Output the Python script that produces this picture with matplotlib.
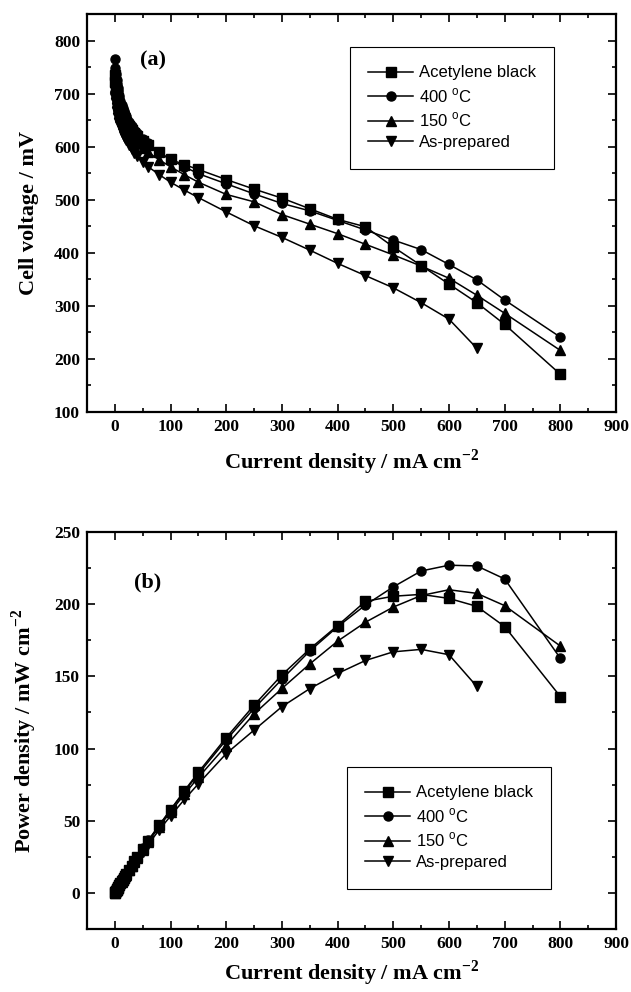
import matplotlib
matplotlib.use('Agg')
import matplotlib.pyplot as plt
from matplotlib.ticker import MultipleLocator

plt.rcParams['font.family'] = ['Liberation Serif', 'DejaVu Serif']
plt.rcParams['mathtext.fontset'] = 'custom'
plt.rcParams['mathtext.rm'] = 'Liberation Serif:bold'
plt.rcParams['mathtext.bf'] = 'Liberation Serif:bold'
plt.rcParams['mathtext.sf'] = 'Liberation Sans'

# current density (mA cm-2) at which each point was measured
current = [0, 1, 2, 3, 4, 5, 6, 8, 10, 12, 14, 16, 18, 20, 25, 30, 35, 40, 50, 60,
           80, 100, 125, 150, 200, 250, 300, 350, 400, 450, 500, 550, 600, 650, 700, 800]
current_asprep = current[:34]

# (a) cell voltage, mV
volt_acetylene = [735, 722, 712, 704, 697, 691, 686, 677, 670, 664, 659, 654, 650, 646, 638, 631,
                  625, 620, 611, 603, 589, 576, 566, 557, 538, 520, 503, 483, 463, 449, 411, 376,
                  341, 306, 265, 171]
volt_400 = [765, 748, 736, 726, 718, 711, 705, 695, 686, 679, 672, 667, 662, 657, 647, 639,
            632, 626, 615, 606, 589, 575, 562, 549, 530, 511, 493, 479, 461, 443, 424, 406,
            378, 349, 311, 241]
volt_150 = [725, 712, 701, 692, 685, 678, 673, 664, 657, 650, 645, 640, 636, 632, 624, 617,
            611, 606, 597, 589, 575, 562, 547, 533, 510, 496, 472, 454, 436, 416, 396, 375,
            352, 320, 286, 216]
volt_asprep = [705, 692, 682, 673, 666, 660, 654, 645, 638, 631, 626, 621, 616, 612, 603, 595,
               588, 582, 571, 562, 547, 533, 518, 504, 477, 451, 429, 405, 380, 357, 334, 306,
               275, 220]

# (b) power density, mW cm-2
power_acetylene = [0, 0.7, 1.4, 2.1, 2.8, 3.5, 4.1, 5.4, 6.7, 8.0, 9.2, 10.5, 11.7, 12.9, 16.0,
                   18.9, 21.9, 24.8, 30.6, 36.2, 47.1, 57.6, 70.8, 83.6, 107.6, 130.0, 151.0,
                   169.0, 185.2, 202.0, 205.5, 206.8, 204.0, 198.5, 184.5, 136.0]
power_400 = [0, 0.7, 1.5, 2.2, 2.9, 3.6, 4.2, 5.6, 6.9, 8.1, 9.4, 10.7, 11.9, 13.1, 16.2,
             19.2, 22.1, 25.0, 30.8, 36.4, 47.1, 57.5, 70.3, 82.4, 106.0, 127.8, 148.0,
             167.6, 184.4, 199.4, 212.0, 223.0, 227.0, 226.5, 217.5, 162.5]
power_150 = [0, 0.7, 1.4, 2.1, 2.7, 3.4, 4.0, 5.3, 6.6, 7.8, 9.0, 10.2, 11.4, 12.6, 15.6,
             18.5, 21.4, 24.2, 29.9, 35.3, 46.0, 56.2, 68.4, 80.0, 102.0, 124.0, 141.6,
             158.6, 174.4, 187.5, 198.0, 206.0, 210.0, 207.5, 199.0, 171.0]
power_asprep = [0, 0.7, 1.4, 2.0, 2.7, 3.3, 3.9, 5.2, 6.4, 7.6, 8.8, 9.9, 11.1, 12.2, 15.1,
                17.9, 20.6, 23.3, 28.6, 33.7, 43.8, 53.3, 64.8, 75.6, 96.5, 112.8, 129.0,
                141.5, 152.0, 161.0, 167.0, 168.7, 165.0, 143.0]

labels = ['Acetylene black', '400 $^{\\mathsf{o}}$C', '150 $^{\\mathsf{o}}$C', 'As-prepared']
markers = ['s', 'o', '^', 'v']
msizes = [6.5, 6.5, 7.5, 7.5]

fig = plt.figure(figsize=(6.31, 9.92), dpi=100)
ax1 = fig.add_axes([0.1379, 0.5847, 0.8384, 0.4012])
ax2 = fig.add_axes([0.1379, 0.0635, 0.8384, 0.4002])

volts = [(current, volt_acetylene), (current, volt_400), (current, volt_150), (current_asprep, volt_asprep)]
powers = [(current, power_acetylene), (current, power_400), (current, power_150), (current_asprep, power_asprep)]

for ax, series in [(ax1, volts), (ax2, powers)]:
    for (x, y), lab, m, ms in zip(series, labels, markers, msizes):
        ax.plot(x, y, color='black', linewidth=1.1, marker=m, markersize=ms, label=lab)

def style(ax, ymin, ymax, ymaj, ymin_step, xpad):
    ax.set_xlim(-50, 900)
    ax.set_ylim(ymin, ymax)
    ax.xaxis.set_major_locator(MultipleLocator(100))
    ax.xaxis.set_minor_locator(MultipleLocator(50))
    ax.yaxis.set_major_locator(MultipleLocator(ymaj))
    ax.yaxis.set_minor_locator(MultipleLocator(ymin_step))
    ax.tick_params(which='both', direction='in', top=True, right=True, width=1.2)
    ax.tick_params(which='major', length=5.5, labelsize=12.5, pad=5)
    ax.tick_params(which='minor', length=3)
    for lab in ax.get_xticklabels() + ax.get_yticklabels():
        lab.set_fontweight('bold')
    for sp in ax.spines.values():
        sp.set_linewidth(1.6)
    ax.set_xlabel('Current density / mA cm$^{-2}$', fontsize=16, fontweight='bold', labelpad=xpad)

style(ax1, 100, 850, 100, 50, 9)
style(ax2, -25, 250, 50, 25, 5)
ax1.set_ylabel('Cell voltage / mV', fontsize=16, fontweight='bold', labelpad=11)
ax2.set_ylabel('Power density / mW cm$^{-2}$', fontsize=16, fontweight='bold', labelpad=11)

ax1.text(0.125, 0.884, '(a)', transform=ax1.transAxes, fontsize=16, fontweight='bold',
         ha='center', va='center')
ax2.text(0.115, 0.874, '(b)', transform=ax2.transAxes, fontsize=16, fontweight='bold',
         ha='center', va='center')

for ax, anchor in [(ax1, (0.497, 0.917)), (ax2, (0.491, 0.408))]:
    leg = ax.legend(loc='upper left', bbox_to_anchor=anchor, borderaxespad=0,
                    prop={'family': 'Liberation Sans', 'size': 12}, fancybox=False,
                    edgecolor='black', framealpha=1, handlelength=2.7, handletextpad=0.35,
                    labelspacing=0.35, borderpad=1.1, numpoints=1)
    leg.get_frame().set_linewidth(0.8)

fig.savefig('out.png', dpi=100)
